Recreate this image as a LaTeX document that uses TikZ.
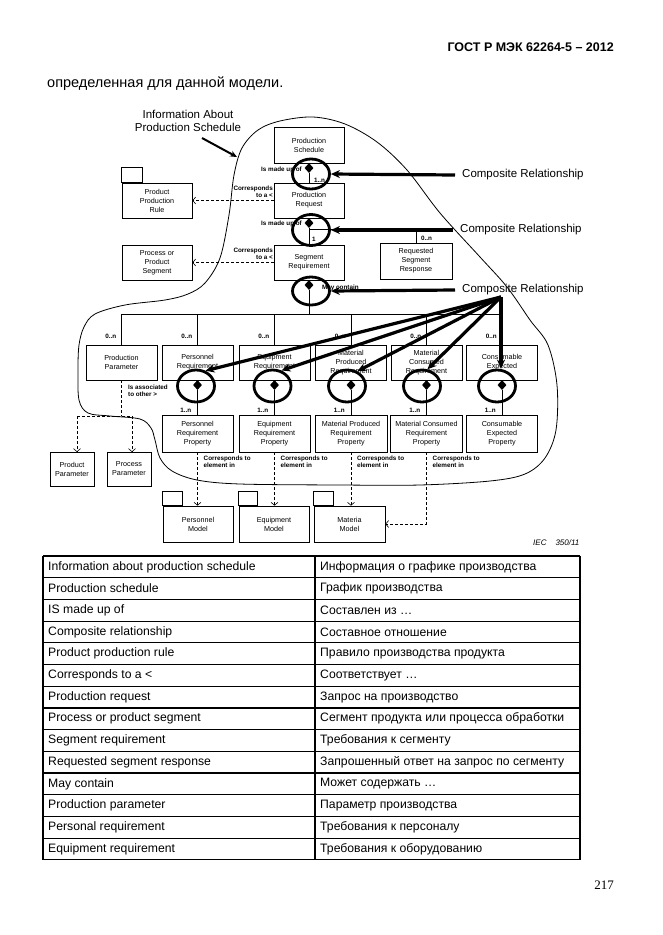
\documentclass[tikz,border=0pt]{standalone}
\usepackage{fontspec}
\setmainfont{Liberation Sans}
\newfontfamily\seriffam{Liberation Serif}
\usetikzlibrary{arrows.meta,shapes.geometric}
\tikzset{
 box/.style={draw, line width=0.6pt, minimum width=70pt, minimum height=35pt, inner sep=1pt, align=center, font=\fontsize{7.2}{9}\selectfont},
 dia/.style={diamond, fill, aspect=1, inner sep=0pt, minimum width=9pt, minimum height=10pt},
 ring/.style={ellipse, draw, line width=2.8pt, minimum width=37pt, minimum height=30pt, inner sep=0pt},
 lbl/.style={font=\fontsize{6.3}{6.8}\selectfont\bfseries, inner sep=0pt},
 conn/.style={line width=0.6pt},
 dashc/.style={line width=0.6pt, dash pattern=on 3pt off 2pt},
 openarr/.style={-{Straight Barb[length=3pt,width=7pt]}},
 thickarr/.style={line width=3.2pt, -{Stealth[length=9pt,width=8pt]}},
 crtext/.style={font=\fontsize{11.5}{12}\selectfont, anchor=west, inner sep=0pt},
 tcell/.style={font=\fontsize{12.2}{13}\selectfont, anchor=west, inner sep=0pt},
 tab/.style={line width=0.6pt},
}
\begin{document}
\begin{tikzpicture}[x=1pt,y=-1pt]
\useasboundingbox (0,0) rectangle (662,935);
\fill[white] (0,0) rectangle (662,935);

% header
\node[anchor=east, inner sep=0pt, font=\fontsize{12.5}{14}\selectfont\bfseries] (hdr) at (614,47) {ГОСТ Р МЭК 62264-5 – 2012};
\node[anchor=west, inner sep=0pt, font=\fontsize{14.5}{16}\selectfont] (intro) at (47,84) {определенная для данной модели.};
\node[anchor=east, inner sep=0pt, font=\seriffam\fontsize{13}{15}\selectfont] (pgno) at (614,885) {217};

% boundary curve
\draw[line width=0.8pt] plot[smooth cycle, tension=0.55] coordinates {
(313,117) (345,124) (377,142) (407,170) (440,213) (480,257) (507,287) (530,320) (548,345) (557,385) (556,430) (545,458) (525,474) (490,481) (420,485) (340,485) (240,484) (197,480) (172,471) (160,458) (155,440) (151,428) (140,419) (110,416) (88,413) (79,400) (78,370) (79,345) (84,327) (95,314) (125,305) (165,300) (188,294) (205,283) (220,258) (229,215) (234,175) (242,148) (258,130) (280,121)};

\node[align=center, inner sep=0pt, font=\fontsize{11.5}{13}\selectfont] (info) at (188,120.5) {Information About\\Production Schedule};
\coordinate (curvept) at (237,157);
\draw[line width=2pt, -{Stealth[length=7pt,width=6pt]}] (202,138) -- (curvept);

% top column
\node[box, minimum height=36pt] (ps) at (309,145) {Production\\Schedule};
\node[box] (preq) at (309,200.5) {Production\\Request};
\node[box] (sr) at (309,262.5) {Segment\\Requirement};
\node[box, minimum width=72pt, minimum height=36pt] (rsr) at (416,261) {Requested\\Segment\\Response};
\node[box] (ppr) at (157,200.5) {Product\\Production\\Rule};
\draw[tab] (ppr.north west) rectangle ++(21,-15);
\node[box] (pps) at (157,262.5) {Process or\\Product\\Segment};

\node[dia] (d1) at (309,168) {};
\node[dia] (d2) at (309,223) {};
\node[dia] (d3) at (309,285) {};

\draw[conn] (d1.south) -- (preq.north);
\draw[conn] (d2.south) -- (sr.north);
\coordinate (j2) at (309,229);
\draw[conn] (j2) -| (rsr.north);
\coordinate (bus) at (309,314);
\draw[conn] (d3.south) -- (bus);

\node[lbl, anchor=east] (imu1) at (302,170) {Is made up of};
\node[lbl, anchor=east] (imu2) at (302,224) {Is made up of};
\node[lbl, anchor=west] (mc) at (322,288) {May contain};
\node[lbl, anchor=west] (n1) at (314,180) {1..n};
\node[lbl, anchor=west] (n2) at (312,239) {1};
\node[lbl, anchor=west] (n3) at (421,238) {0..n};

\draw[dashc, openarr] (preq.west) -- (ppr.east);
\draw[dashc, openarr] (sr.west) -- (pps.east);
\node[lbl, anchor=east, align=right] (cor1) at (273,192) {Corresponds\\to a <};
\node[lbl, anchor=east, align=right] (cor2) at (273,254) {Corresponds\\to a <};

% requirement row
\node[box, minimum width=71pt] (pp) at (121.5,362.5) {Production\\Parameter};
\node[box, minimum width=71pt] (pr) at (197.5,362.5) {Personnel\\Requirement};
\node[box, minimum width=71pt] (er) at (274.5,362.5) {Equipment\\Requirement};
\node[box, minimum width=71pt] (mpr) at (351,362.5) {Material\\Produced\\Requirement};
\node[box, minimum width=71pt] (mcr) at (426.5,362.5) {Material\\Consumed\\Requirement};
\node[box, minimum width=71pt] (ce) at (502,362.5) {Consumable\\Expected};
\foreach \n in {pp,pr,er,mpr,mcr,ce} {
  \draw[conn] (\n.north) -- (\n.north |- bus);
  \node[lbl, anchor=east] at ([xshift=-5pt]\n.north |- 0,336) {0..n};
}
\draw[conn] (pp.north |- bus) -- (ce.north |- bus);

% property row
\node[box, minimum width=71pt, minimum height=37pt] (prp) at (197.5,433.5) {Personnel\\Requirement\\Property};
\node[box, minimum width=71pt, minimum height=37pt] (erp) at (274.5,433.5) {Equipment\\Requirement\\Property};
\node[box, minimum width=72pt, minimum height=37pt] (mprp) at (351,433.5) {Material Produced\\Requirement\\Property};
\node[box, minimum width=72pt, minimum height=37pt] (mcrp) at (426.5,433.5) {Material Consumed\\Requirement\\Property};
\node[box, minimum width=71pt, minimum height=37pt] (cep) at (502,433.5) {Consumable\\Expected\\Property};

\foreach \a/\b in {pr/prp,er/erp,mpr/mprp,mcr/mcrp,ce/cep} {
  \node[dia] (d\a) at (\a.south |- 0,385) {};
  \draw[conn] (d\a.south) -- (\b.north);
  \node[lbl, anchor=east] at ([xshift=-6pt]\b.north |- 0,410) {1..n};
}
\node[ring, minimum height=32pt] (rpr) at (196,386) {};
\node[ring, minimum height=32pt] (rer) at (272.5,386) {};
\node[ring, minimum height=32pt] (rmpr) at (347,386) {};
\node[ring, minimum height=32pt] (rmcr) at (422,386) {};
\node[ring, minimum height=32pt] (rce) at (497,386) {};

% top rings
\node[ring, minimum height=30pt] (r1) at (311,174) {};
\node[ring, minimum height=31pt] (r2) at (311,230) {};
\node[ring, minimum height=28pt] (r3) at (311,291) {};

% composite relationship labels and arrows
\node[crtext] (cr1) at (462,175) {Composite Relationship};
\node[crtext] (cr2) at (460,230) {Composite Relationship};
\node[crtext] (cr3) at (462,290) {Composite Relationship};
\draw[thickarr] ([xshift=-7pt]cr1.west) -- (r1.east);
\draw[thickarr] ([xshift=-7pt]cr2.west) -- (r2.east);
\draw[thickarr] ([xshift=-7pt]cr3.west) -- (r3.east);
\coordinate (hub) at (501,297);
\draw[thickarr] (hub) -- (rpr.58);
\draw[thickarr] (hub) -- (rer.60);
\draw[thickarr] (hub) -- (rmpr.55);
\draw[thickarr] (hub) -- (rmcr.72);
\draw[thickarr] (hub) -- (hub |- rce.north);

% production parameter association
\node[box, minimum width=44pt, minimum height=34pt] (prodp) at (72,469) {Product\\Parameter};
\node[box, minimum width=44pt, minimum height=34pt] (procp) at (129,469) {Process\\Parameter};
\coordinate (abus) at (121.5,416);
\draw[dashc] (pp.south) -- (abus);
\draw[dashc] (77,416) -- (132,416);
\draw[dashc, openarr] (77,416) -- (77,452);
\draw[dashc, openarr] (132,416) -- (132,452);
\node[lbl, anchor=west, align=left] (assoc) at (128,391) {Is associated\\to other >};

% models
\node[box, minimum width=70pt, minimum height=36pt] (pm) at (198,524) {Personnel\\Model};
\node[box, minimum width=70pt, minimum height=36pt] (em) at (274,524) {Equipment\\Model};
\node[box, minimum width=71pt, minimum height=36pt] (mm) at (349.5,524) {Materia\\Model};
\draw[tab] (pm.north west) rectangle ++(20,-14);
\draw[tab] (em.north west) rectangle ++(19,-14);
\draw[tab] (mm.north west) rectangle ++(20,-14);

\draw[dashc, openarr] (prp.south) -- (prp.south |- pm.north);
\draw[dashc, openarr] (erp.south) -- (erp.south |- em.north);
\draw[dashc, openarr] (mprp.south) -- (mprp.south |- mm.north);
\draw[dashc, openarr] (mcrp.south) |- (mm.east);
\foreach \b in {prp,erp,mprp,mcrp} {
  \node[lbl, anchor=west, align=left] at ([xshift=6pt]\b.south |- 0,461.5) {Corresponds to\\element in};
}
\node[anchor=west, inner sep=0pt, font=\fontsize{8}{9}\selectfont\itshape] (iec) at (533,543) {IEC\hspace{9pt}350/11};

% table
\def\ttop{556}
\def\rh{21.7}
\foreach \i/\l/\r in {
0/Information about production schedule/Информация о графике производства,
1/Production schedule/График производства,
2/IS made up of/Составлен из …,
3/Composite relationship/Составное отношение,
4/Product production rule/Правило производства продукта,
5/Corresponds to a </Соответствует …,
6/Production request/Запрос на производство,
7/Process or product segment/Сегмент продукта или процесса обработки,
8/Segment requirement/Требования к сегменту,
9/Requested segment response/Запрошенный ответ на запрос по сегменту,
10/May contain/Может содержать …,
11/Production parameter/Параметр производства,
12/Personal requirement/Требования к персоналу,
13/Equipment requirement/Требования к оборудованию} {
  \node[tcell] (tl\i) at (48,{\ttop+\rh*\i+\rh/2}) {\l};
  \node[tcell] (tr\i) at (320,{\ttop+\rh*\i+\rh/2}) {\r};
}
\foreach \i in {0,...,14} {
  \draw[line width=1.2pt] (43,{\ttop+\rh*\i}) -- (580,{\ttop+\rh*\i});
}
\draw[line width=1.2pt] (43,\ttop) -- (43,{\ttop+14*\rh});
\draw[line width=1.2pt] (315,\ttop) -- (315,{\ttop+14*\rh});
\draw[line width=1.2pt] (580,\ttop) -- (580,{\ttop+14*\rh});
\end{tikzpicture}
\end{document}
